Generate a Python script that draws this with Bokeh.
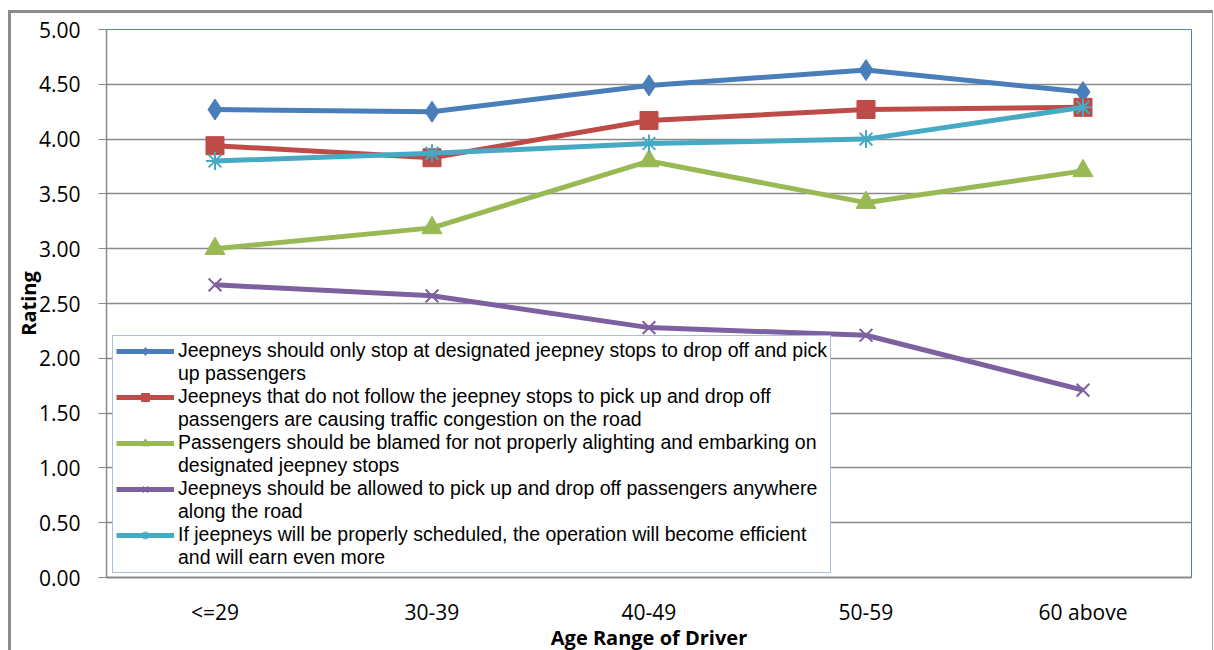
from bokeh.plotting import figure
from bokeh.models import Legend, LegendItem, FactorRange, SingleIntervalTicker, NumeralTickFormatter
from bokeh.embed import file_html
from bokeh.resources import INLINE

# Age ranges of the drivers surveyed
age_ranges = ["<=29", "30-39", "40-49", "50-59", "60 above"]

# Mean rating per statement for each age range
stop_only_designated = [4.27, 4.25, 4.49, 4.63, 4.43]
not_following_causes_congestion = [3.94, 3.83, 4.17, 4.27, 4.29]
passengers_blamed = [3.00, 3.19, 3.80, 3.42, 3.71]
allowed_anywhere = [2.67, 2.57, 2.28, 2.21, 1.71]
scheduled_efficient = [3.80, 3.87, 3.96, 4.00, 4.29]

# Statement text, wrapped onto two legend rows each
statements = [
    ("Jeepneys should only stop at designated jeepney stops to drop off and pick",
     "up passengers"),
    ("Jeepneys that do not follow the jeepney stops to pick up and drop off",
     "passengers are causing traffic congestion on the road"),
    ("Passengers should be blamed for not properly alighting and embarking on",
     "designated jeepney stops"),
    ("Jeepneys should be allowed to pick up and drop off passengers anywhere",
     "along the road"),
    ("If jeepneys will be properly scheduled, the operation will become efficient",
     "and will earn even more"),
]

FONT = "Open Sans"
LEGEND_FONT = "Liberation Sans"
GRID = "#8a8a8a"

p = figure(
    x_range=FactorRange(*age_ranges, range_padding=0),
    y_range=(0, 5),
    width=1205, height=640,
    output_backend="svg", toolbar_location=None,
    min_border_left=93, min_border_right=25, min_border_top=16, min_border_bottom=60,
)
p.margin = (10, 0, 0, 8)
p.styles = {
    "border-left": "3px solid #8c8c8c",
    "border-top": "3px solid #8c8c8c",
    "border-right": "1px solid #a6a6a6",
}

p.outline_line_color = "#4f81bd"
p.outline_line_width = 1
p.xgrid.grid_line_color = None
p.ygrid.grid_line_color = GRID
p.ygrid.grid_line_width = 1.5

p.yaxis.ticker = SingleIntervalTicker(interval=0.5)
p.yaxis.formatter = NumeralTickFormatter(format="0.00")
p.yaxis.minor_tick_line_color = None
p.yaxis.major_tick_out = 8
p.yaxis.major_tick_in = 0
p.yaxis.major_tick_line_color = GRID
p.yaxis.axis_line_color = GRID
p.yaxis.axis_line_width = 1.5
p.yaxis.major_label_text_font = FONT
p.yaxis.major_label_text_font_size = "21px"
p.yaxis.major_label_text_color = "#000000"
p.yaxis.major_label_standoff = 18
p.yaxis.axis_label = "Rating"
p.yaxis.axis_label_text_font = FONT
p.yaxis.axis_label_text_font_size = "20px"
p.yaxis.axis_label_text_font_style = "bold"
p.yaxis.axis_label_text_color = "#000000"
p.yaxis.axis_label_standoff = -6

p.xaxis.major_tick_line_color = None
p.xaxis.minor_tick_line_color = None
p.xaxis.axis_line_color = GRID
p.xaxis.axis_line_width = 2
p.xaxis.major_label_text_font = FONT
p.xaxis.major_label_text_font_size = "21px"
p.xaxis.major_label_text_color = "#000000"
p.xaxis.major_label_standoff = 14
p.xaxis.axis_label = "Age Range of Driver"
p.xaxis.axis_label_text_font = FONT
p.xaxis.axis_label_text_font_size = "20px"
p.xaxis.axis_label_text_font_style = "bold"
p.xaxis.axis_label_text_color = "#000000"
p.xaxis.axis_label_standoff = -5

series = [
    (stop_only_designated, "#4a7ebb", "diamond", 21, None),
    (not_following_causes_congestion, "#be4b48", "square", 18, None),
    (passengers_blamed, "#98b954", "triangle", 20, None),
    (allowed_anywhere, "#7d60a0", "x", 18, 2),
    (scheduled_efficient, "#46aac5", "asterisk", 18, 2),
]

items = []
for vals, color, marker, size, mlw in series:
    ln = p.line(age_ranges, vals, line_color=color, line_width=5)
    kw = dict(marker=marker, size=size, line_color=color)
    if mlw:
        kw.update(fill_color=None, line_width=mlw)
    else:
        kw.update(fill_color=color)
    mk = p.scatter(age_ranges, vals, **kw)
    items.append((ln, mk))

# transparent stand-in so the wrapped second row of each label has no glyph
blank = p.line(x=[], y=[], line_alpha=0)

legend_items = []
for (first, second), (ln, mk) in zip(statements, items):
    legend_items.append(LegendItem(label=first, renderers=[ln, mk]))
    legend_items.append(LegendItem(label=second, renderers=[blank]))

legend = Legend(
    items=legend_items,
    location=(6, 4),
    orientation="vertical",
    border_line_color="#4f81bd",
    border_line_width=1,
    background_fill_alpha=1,
    label_text_font=LEGEND_FONT,
    label_text_font_size="19.5px",
    label_text_color="#000000",
    label_standoff=4,
    label_height=20,
    glyph_width=58,
    glyph_height=20,
    spacing=0,
    padding=3,
    margin=0,
)
p.add_layout(legend, "center")

open("out.html", "w").write(file_html(p, INLINE))
